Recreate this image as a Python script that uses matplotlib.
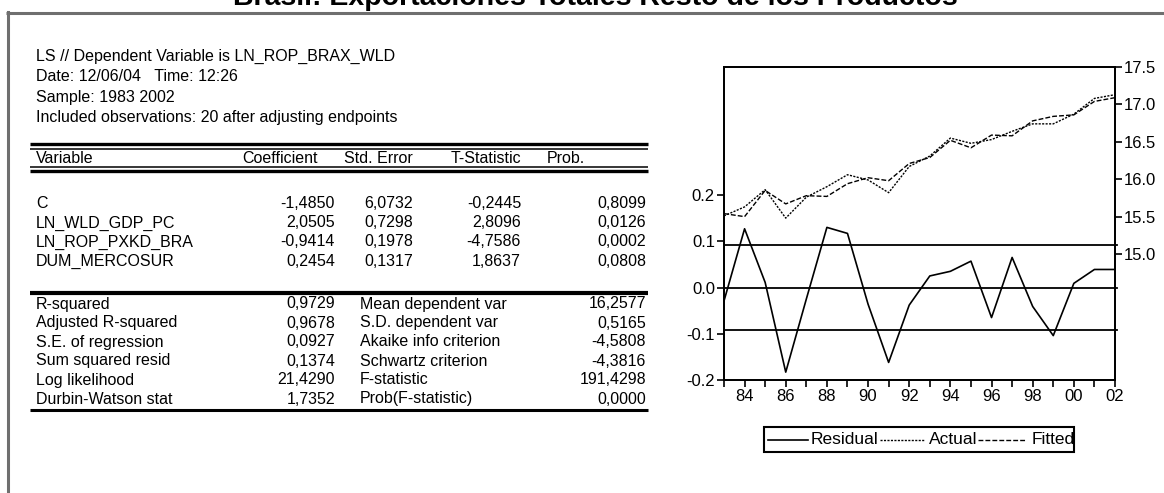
import matplotlib
matplotlib.use('Agg')
import matplotlib.pyplot as plt
from matplotlib.lines import Line2D
from matplotlib.patches import Rectangle

plt.rcParams['font.family'] = ['Liberation Sans', 'DejaVu Sans']

W, H = 1164, 493

# data
title = 'Brasil: Exportaciones Totales Resto de los Productos'
info_lines = ['LS // Dependent Variable is LN_ROP_BRAX_WLD',
              'Date: 12/06/04   Time: 12:26',
              'Sample: 1983 2002',
              'Included observations: 20 after adjusting endpoints']
variables = ['C', 'LN_WLD_GDP_PC', 'LN_ROP_PXKD_BRA', 'DUM_MERCOSUR']
coefficient = [-1.4850, 2.0505, -0.9414, 0.2454]
std_error = [6.0732, 0.7298, 0.1978, 0.1317]
t_stat = [-0.2445, 2.8096, -4.7586, 1.8637]
prob = [0.8099, 0.0126, 0.0002, 0.0808]
stat_names_l = ['R-squared', 'Adjusted R-squared', 'S.E. of regression',
                'Sum squared resid', 'Log likelihood', 'Durbin-Watson stat']
stat_vals_l = [0.9729, 0.9678, 0.0927, 0.1374, 21.4290, 1.7352]
stat_names_r = ['Mean dependent var', 'S.D. dependent var', 'Akaike info criterion',
                'Schwartz criterion', 'F-statistic', 'Prob(F-statistic)']
stat_vals_r = [16.2577, 0.5165, -4.5808, -4.3816, 191.4298, 0.0000]

years = list(range(1983, 2003))
residual = [-0.029, 0.127, 0.011, -0.183, -0.025, 0.130, 0.117, -0.036, -0.162, -0.038,
            0.025, 0.035, 0.057, -0.065, 0.065, -0.041, -0.104, 0.009, 0.039, 0.039]
actual = [15.51, 15.63, 15.86, 15.48, 15.76, 15.90, 16.06, 15.99, 15.82, 16.17,
          16.31, 16.55, 16.48, 16.53, 16.64, 16.74, 16.74, 16.87, 17.08, 17.13]
fitted = [15.54, 15.50, 15.85, 15.67, 15.78, 15.77, 15.94, 16.02, 15.98, 16.21,
          16.29, 16.52, 16.42, 16.59, 16.58, 16.78, 16.84, 16.86, 17.04, 17.09]
se_reg = 0.0927


def fx(x):
    return x / W


def fy(y):
    return 1 - y / H


def num(v):
    return f'{v:.4f}'.replace('.', ',')


def hline(x0, x1, y, lw, color='black'):
    fig.add_artist(Line2D([fx(x0), fx(x1)], [fy(y), fy(y)], lw=lw, color=color,
                          transform=fig.transFigure, solid_capstyle='butt'))


fig = plt.figure(figsize=(W / 100, H / 100), dpi=100)
fs = 11.5

# title (cut by the top edge, as in the reference) + frame
fig.text(fx(595), fy(5), title, ha='center', va='baseline', fontsize=20.5, weight='bold')
hline(6, W, 13, 2.2, '#6f6f6f')
fig.add_artist(Line2D([fx(8), fx(8)], [fy(12), fy(H)], lw=2.2, color='#6f6f6f',
                      transform=fig.transFigure))

# header text
for i, s in enumerate(info_lines):
    fig.text(fx(36), fy(56 + i * 20.5), s, fontsize=fs, va='center')

# coefficient table
hline(30, 648, 143.5, 2.4)
hline(30, 648, 148.5, 1.1)
yh = 158
fig.text(fx(36), fy(yh), 'Variable', fontsize=fs, va='center')
fig.text(fx(318), fy(yh), 'Coefficient', fontsize=fs, va='center', ha='right')
fig.text(fx(413), fy(yh), 'Std. Error', fontsize=fs, va='center', ha='right')
fig.text(fx(521), fy(yh), 'T-Statistic', fontsize=fs, va='center', ha='right')
fig.text(fx(547), fy(yh), 'Prob.', fontsize=fs, va='center')
hline(30, 648, 166.5, 1.1)
hline(30, 648, 171, 2.4)

for i, name in enumerate(variables):
    y = 204 + i * 19
    fig.text(fx(36), fy(y), name, fontsize=fs, va='center')
    fig.text(fx(335), fy(y), num(coefficient[i]), fontsize=fs, va='center', ha='right')
    fig.text(fx(413), fy(y), num(std_error[i]), fontsize=fs, va='center', ha='right')
    fig.text(fx(521), fy(y), num(t_stat[i]), fontsize=fs, va='center', ha='right')
    fig.text(fx(646), fy(y), num(prob[i]), fontsize=fs, va='center', ha='right')

hline(30, 648, 293, 3.0)
for i in range(len(stat_names_l)):
    y = 304 + i * 19
    fig.text(fx(36), fy(y), stat_names_l[i], fontsize=fs, va='center')
    fig.text(fx(335), fy(y), num(stat_vals_l[i]), fontsize=fs, va='center', ha='right')
    fig.text(fx(360), fy(y), stat_names_r[i], fontsize=fs, va='center')
    fig.text(fx(646), fy(y), num(stat_vals_r[i]), fontsize=fs, va='center', ha='right')
hline(30, 648, 410, 2.2)

# residual / actual / fitted graph
ax = fig.add_axes([fx(724), fy(380), fx(1115) - fx(724), fy(67) - fy(380)])
ax.set_facecolor('none')
ax.plot(years, residual, color='black', lw=1.2)
for v in [se_reg, 0.0, -se_reg]:
    ax.plot([years[0], years[-1] + 0.1], [v, v], color='black', lw=1.3, clip_on=False)
ax.set_xlim(years[0], years[-1])
ax.set_ylim(-0.2, 0.4768)
ax.set_yticks([-0.2, -0.1, 0.0, 0.1, 0.2])
ax.set_yticklabels(['-0.2', '-0.1', '0.0', '0.1', '0.2'])
ax.set_xticks(years)
ax.set_xticklabels([f'{y % 100:02d}' if y % 2 == 0 else '' for y in years])

ax2 = ax.twinx()
ax2.plot(years, actual, color='black', lw=1.0, dashes=(1.5, 1.0))
ax2.plot(years, fitted, color='black', lw=1.0, dashes=(3.5, 1.5))
ax2.set_ylim(13.316, 17.5)
ax2.set_yticks([15.0, 15.5, 16.0, 16.5, 17.0, 17.5])
ax2.set_yticklabels(['15.0', '15.5', '16.0', '16.5', '17.0', '17.5'])

for a in (ax, ax2):
    for sp in a.spines.values():
        sp.set_linewidth(1.3)
    a.tick_params(direction='out', length=5, width=1.2, labelsize=12, pad=1.5)

# legend
lx0, lx1, ly0, ly1 = 764, 1074, 427, 452
fig.add_artist(Rectangle((fx(lx0), fy(ly1)), fx(lx1) - fx(lx0), fy(ly0) - fy(ly1),
                         fill=False, lw=1.5, edgecolor='black', transform=fig.transFigure))
ly = (ly0 + ly1) / 2
fig.add_artist(Line2D([fx(768), fx(808)], [fy(ly), fy(ly)], color='black', lw=1.2,
                      transform=fig.transFigure))
fig.text(fx(811), fy(ly), 'Residual', fontsize=12.5, va='center')
fig.add_artist(Line2D([fx(880), fx(925)], [fy(ly), fy(ly)], color='black', lw=1.0,
                      dashes=(1.5, 1.0), transform=fig.transFigure))
fig.text(fx(929), fy(ly), 'Actual', fontsize=12.5, va='center')
fig.add_artist(Line2D([fx(978), fx(1026)], [fy(ly), fy(ly)], color='black', lw=1.0,
                      dashes=(3.5, 1.5), transform=fig.transFigure))
fig.text(fx(1032), fy(ly), 'Fitted', fontsize=12.5, va='center')

fig.savefig('out.png', dpi=100)
